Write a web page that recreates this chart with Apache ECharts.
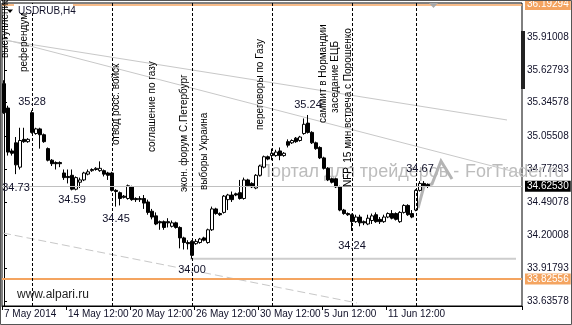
<!DOCTYPE html>
<html><head><meta charset="utf-8">
<script src="https://cdn.jsdelivr.net/npm/echarts@6/dist/echarts.min.js"></script>
<style>html,body{margin:0;padding:0;background:#fff}#c{width:572px;height:325px}</style>
</head><body><div id="c"></div>
<script>
// ---- data ----
const categoryCount = 130; // visible bar slots incl. right shift
// [open, close, low, high]
const bars = [
[35.51,35.26,35.25,35.54],[35.30,34.92,34.89,35.32],[34.93,34.91,34.89,34.95],[35.00,34.81,34.73,35.05],
[34.79,35.02,34.77,35.13],[35.03,35.01,35.00,35.13],[35.01,35.03,35.00,35.04],[35.26,35.09,35.08,35.28],
[35.08,35.12,35.07,35.13],[35.12,35.07,34.95,35.13],[35.07,35.01,35.00,35.08],[34.95,34.85,34.84,34.96],
[34.85,34.82,34.80,34.86],[34.83,34.82,34.77,34.84],[34.83,34.82,34.79,34.84],[34.74,34.70,34.68,34.77],
[34.71,34.70,34.65,34.77],[34.72,34.60,34.59,34.77],[34.60,34.70,34.59,34.71],[34.66,34.68,34.61,34.70],
[34.68,34.74,34.67,34.75],[34.73,34.75,34.72,34.77],[34.76,34.77,34.75,34.78],[34.77,34.78,34.76,34.79],
[34.76,34.78,34.75,34.84],[34.76,34.73,34.71,34.77],[34.74,34.72,34.68,34.75],[34.74,34.59,34.58,34.75],
[34.59,34.58,34.45,34.60],[34.57,34.52,34.46,34.58],[34.54,34.53,34.52,34.55],[34.52,34.63,34.51,34.64],
[34.62,34.51,34.50,34.63],[34.52,34.51,34.49,34.53],[34.51,34.52,34.49,34.54],[34.52,34.48,34.43,34.55],
[34.49,34.40,34.38,34.51],[34.41,34.36,34.34,34.43],[34.37,34.30,34.29,34.40],[34.32,34.31,34.25,34.33],
[34.32,34.27,34.25,34.33],[34.32,34.31,34.27,34.35],[34.28,34.31,34.27,34.33],[34.31,34.27,34.26,34.32],
[34.27,34.18,34.09,34.28],[34.18,34.14,34.08,34.19],[34.14,34.13,34.08,34.16],[34.15,34.03,34.00,34.16],
[34.13,34.15,34.12,34.17],[34.14,34.17,34.13,34.18],[34.18,34.16,34.15,34.19],[34.14,34.25,34.13,34.26],
[34.25,34.43,34.24,34.45],[34.43,34.39,34.38,34.44],[34.39,34.38,34.37,34.40],[34.40,34.54,34.39,34.55],
[34.51,34.55,34.42,34.56],[34.55,34.51,34.49,34.58],[34.56,34.55,34.54,34.57],[34.57,34.52,34.51,34.68],
[34.52,34.68,34.51,34.70],[34.68,34.63,34.62,34.69],[34.65,34.62,34.61,34.66],[34.61,34.72,34.60,34.73],
[34.72,34.80,34.71,34.81],[34.79,34.88,34.78,34.89],[34.88,34.86,34.85,34.89],[34.89,34.91,34.85,34.95],
[34.89,34.92,34.88,34.94],[34.93,34.89,34.85,34.96],[34.89,34.91,34.88,34.92],[35.01,34.98,34.96,35.03],
[35.00,35.02,34.99,35.03],[35.04,35.01,35.00,35.05],[35.02,35.05,35.01,35.06],[35.08,35.16,35.07,35.21],
[35.17,35.09,35.08,35.24],[35.09,35.00,34.99,35.10],[35.00,34.95,34.94,35.01],[34.96,34.87,34.86,34.97],
[34.87,34.78,34.77,34.88],[34.78,34.68,34.67,34.79],[34.69,34.66,34.65,34.70],[34.69,34.62,34.61,34.70],
[34.62,34.42,34.41,34.63],[34.42,34.39,34.38,34.43],[34.39,34.38,34.37,34.40],[34.38,34.32,34.24,34.39],
[34.32,34.36,34.31,34.38],[34.36,34.31,34.28,34.38],[34.32,34.31,34.29,34.33],[34.30,34.35,34.29,34.38],
[34.33,34.37,34.30,34.39],[34.38,34.32,34.31,34.40],[34.34,34.32,34.30,34.36],[34.32,34.36,34.31,34.38],
[34.36,34.39,34.35,34.40],[34.39,34.35,34.34,34.42],[34.39,34.34,34.33,34.40],[34.32,34.40,34.31,34.41],
[34.40,34.46,34.39,34.47],[34.46,34.38,34.37,34.47],[34.39,34.36,34.35,34.42],[34.42,34.59,34.41,34.60],
[34.59,34.65,34.58,34.67],[34.65,34.63,34.62,34.67],[34.64,34.6253,34.61,34.65]
];
const yTickValues = [35.91008, 35.62793, 35.34578, 35.05508, 34.77293, 34.49078, 34.20008, 33.91793, 33.63578];
const xTickIdx = [0, 16, 32, 48, 64, 80, 96];
const xTickLabels = ['7 May 2014', '14 May 12:00', '20 May 12:00', '26 May 12:00', '30 May 12:00', '5 Jun 12:00', '11 Jun 12:00'];
const eventIdx = [7, 27, 47, 67, 87, 103];
const eventNotes = ['выступление', 'референдум', 'отвод росс. войск', 'соглашение по газу', 'экон. форум С.Петербург',
  'выборы Украина', 'переговоры по Газу', 'саммит в Нормандии', 'заседание ЕЦБ', 'NFP, 15 мин встреча с Порошенко'];
const noteIdx = [7, 3, 17, 28, 47, 76, 87, 104];
const noteVal = [35.28, 34.73, 34.59, 34.45, 34.00, 35.24, 34.24, 34.67];
const levelTop = 36.19294, levelBottom = 33.82556, lastPrice = 34.62530;
const supportLine = [[46.5, 34.00], [128, 34.00]];
const trendLine1 = [[-0.25, 35.887], [125.75, 35.197]];
const trendLine2 = [[-0.25, 35.895], [129.75, 34.731]];
const trendLine3 = [[-0.25, 34.222], [88.25, 33.619]];
const symbolTitle = 'USDRUB,H4';
const siteText = 'www.alpari.ru';
const watermarkA = 'Портал для трейдеров -';
const watermarkB = 'ForTrader.ru';

// ---- styles / layout ----
const FONT = '"Liberation Sans", Arial, sans-serif';
const noteDy = [-8, 14, 10, 12, 11, -10, 15, -12];
const notePos = [[5,58],[24.5,72],[116.5,145],[152,152],[184,192],[204,190],[260,130],[323,123],[335,113],[348,187]];
const categories = Array.from({length: categoryCount}, (_, i) => String(i));

const chart = echarts.init(document.getElementById('c'), null, {renderer: 'canvas'});

const trendStyle = {color: '#c8c8c8', width: 1};
function lineSeries(data, style) {
  return {type: 'line', xAxisIndex: 1, yAxisIndex: 0, data: data, symbol: 'none', silent: true,
    lineStyle: style, z: 1, animation: false};
}
function hLevel(v, color, width, bg) {
  return {yAxis: v, lineStyle: {color: color, width: width, type: 'solid'},
    label: {show: true, position: 'end', distance: 3, formatter: p => Number(p.value).toFixed(5),
      backgroundColor: bg, color: '#fff', padding: [1, 2, 0, 2], fontSize: 10, fontFamily: FONT}};
}
const wmStyle = {font: '18px ' + FONT, fill: '#bcbcbc', textAlign: 'left', textVerticalAlign: 'middle'};

const graphics = [
  {type: 'rect', shape: {x: 0.5, y: 0.5, width: 571, height: 324}, style: {fill: 'none', stroke: '#555', lineWidth: 1}, z: 50},
  {type: 'text', x: 258, y: 172, z: 1, style: Object.assign({text: watermarkA}, wmStyle)},
  {type: 'text', x: 465, y: 172, z: 1, style: Object.assign({text: watermarkB}, wmStyle)},
  {type: 'polyline', shape: {points: [[418,208],[424,186],[432,184],[441,161],[452,179]]}, style: {stroke: '#b4b4b4', lineWidth: 3, fill: 'none'}, z: 1},
  {type: 'text', x: 17, y: 295, z: 10, style: {text: siteText, font: '12px ' + FONT, fill: '#222', textAlign: 'left', textVerticalAlign: 'middle'}},
  {type: 'rect', shape: {x: 14, y: 4, width: 59, height: 8}, style: {fill: '#fff'}, z: 100},
  {type: 'text', x: 18, y: 11, z: 101, style: {text: symbolTitle, font: '10px ' + FONT, fill: '#101028', textAlign: 'left', textVerticalAlign: 'middle'}},
  {type: 'polygon', shape: {points: [[7,9.5],[13,9.5],[10,13]]}, style: {fill: '#000'}, z: 101},
  {type: 'polygon', shape: {points: [[429,3],[438,3],[433.5,8]]}, style: {fill: '#a8a8a8'}, z: 101},
  {type: 'rect', shape: {x: 521, y: 31, width: 4, height: 58}, style: {fill: '#222'}, z: 101}
];
eventNotes.forEach((t, k) => {
  graphics.push({type: 'text', x: notePos[k][0], y: notePos[k][1], rotation: Math.PI / 2, z: 102,
    style: {text: t, font: '10px ' + FONT, fill: '#000', textAlign: 'left', textVerticalAlign: 'middle'}});
});

const option = {
  animation: false,
  backgroundColor: '#fff',
  grid: {left: 2, right: 50, top: 3, bottom: 19, show: true, borderColor: '#000', borderWidth: 1, containLabel: false},
  xAxis: [
    {type: 'category', data: categories, boundaryGap: true,
      axisLine: {show: true, lineStyle: {color: '#000'}},
      axisTick: {show: true, length: 4, interval: i => xTickIdx.includes(i), lineStyle: {color: '#000'}},
      axisLabel: {interval: i => xTickIdx.includes(i), formatter: (v, i) => xTickLabels[xTickIdx.indexOf(i)] || '',
        align: 'left', margin: 3, fontSize: 10, fontFamily: FONT, color: '#101028'},
      splitLine: {show: false}},
    {type: 'value', min: -0.5, max: categoryCount - 0.5, show: false}
  ],
  yAxis: [{type: 'value', position: 'right', min: 33.5927, max: 36.2059, scale: true,
    splitLine: {show: false},
    axisLine: {show: true, lineStyle: {color: '#000'}},
    axisTick: {show: true, length: 3, customValues: yTickValues, lineStyle: {color: '#000'}},
    axisLabel: {customValues: yTickValues, formatter: v => v.toFixed(5), margin: 5, fontSize: 10, fontFamily: FONT, color: '#101028'}}],
  graphic: {elements: graphics},
  series: [
    lineSeries(trendLine1, trendStyle),
    lineSeries(trendLine2, trendStyle),
    lineSeries(trendLine3, {color: '#c8c8c8', width: 1, type: [8, 4]}),
    lineSeries(supportLine, {color: '#cdcdcd', width: 2}),
    {type: 'candlestick', xAxisIndex: 0, yAxisIndex: 0, data: bars, barWidth: 3, z: 3,
      itemStyle: {color: '#fff', color0: '#000', borderColor: '#000', borderColor0: '#000', borderWidth: 1},
      markLine: {silent: true, symbol: ['none', 'none'], precision: 5, animation: false,
        data: [
          hLevel(levelTop, '#f4a460', 1.5, '#f4a460'),
          hLevel(lastPrice, '#c0c0c0', 1, '#000'),
          hLevel(levelBottom, '#f4a460', 2, '#f4a460')
        ].concat(eventIdx.map(i => ({xAxis: String(i), lineStyle: {color: '#000', width: 1, type: [3, 2]}, label: {show: false}})))
      },
      markPoint: {silent: true, animation: false,
        data: noteIdx.map((i, k) => ({coord: [String(i), noteVal[k]], symbol: 'circle', symbolSize: 1,
          itemStyle: {color: 'rgba(0,0,0,0)'},
          label: {show: true, position: 'inside', offset: [0, noteDy[k]], formatter: noteVal[k].toFixed(2),
            fontSize: 11, fontFamily: FONT, color: '#101028'}}))
      }
    }
  ]
};
chart.setOption(option);
</script></body></html>
